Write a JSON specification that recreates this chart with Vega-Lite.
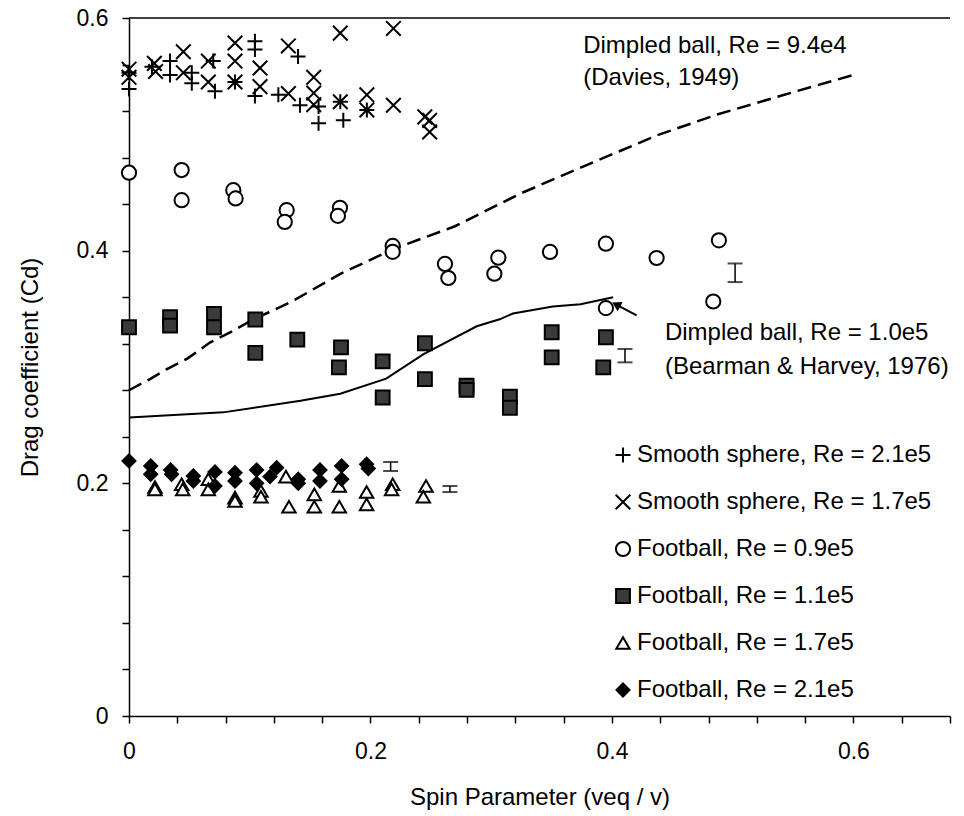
{
  "$schema": "https://vega.github.io/schema/vega-lite/v6.json",
  "width": 821,
  "height": 698,
  "autosize": {"type": "none"},
  "padding": {"left": 129, "top": 18, "right": 14, "bottom": 100},
  "background": "white",
  "config": {
    "view": {"stroke": null},
    "font": "Liberation Sans",
    "axis": {
      "grid": false,
      "domainColor": "black",
      "domainWidth": 1.5,
      "tickColor": "black",
      "tickWidth": 1.5,
      "tickSize": 7,
      "labelFont": "Liberation Sans",
      "labelFontSize": 23,
      "labelColor": "black",
      "labelOverlap": false,
      "labelFlush": false,
      "titleFont": "Liberation Sans",
      "titleFontSize": 24,
      "titleFontWeight": "normal",
      "titleColor": "black"
    },
    "legend": {
      "orient": "none",
      "legendX": 482,
      "legendY": 425,
      "padding": 0,
      "labelFont": "Liberation Sans",
      "labelFontSize": 24,
      "labelColor": "black",
      "labelLimit": 0,
      "labelOffset": 2,
      "rowPadding": 23,
      "symbolStrokeWidth": 2,
      "symbolOpacity": 1
    }
  },
  "datasets": {
    "points": [
      {"series": "Smooth sphere, Re = 2.1e5", "x": 0, "y": 0.553},
      {"series": "Smooth sphere, Re = 2.1e5", "x": 0, "y": 0.539},
      {"series": "Smooth sphere, Re = 2.1e5", "x": 0.019, "y": 0.558},
      {"series": "Smooth sphere, Re = 2.1e5", "x": 0.034, "y": 0.563},
      {"series": "Smooth sphere, Re = 2.1e5", "x": 0.034, "y": 0.551},
      {"series": "Smooth sphere, Re = 2.1e5", "x": 0.052, "y": 0.553},
      {"series": "Smooth sphere, Re = 2.1e5", "x": 0.052, "y": 0.544},
      {"series": "Smooth sphere, Re = 2.1e5", "x": 0.0698, "y": 0.563},
      {"series": "Smooth sphere, Re = 2.1e5", "x": 0.0712, "y": 0.537},
      {"series": "Smooth sphere, Re = 2.1e5", "x": 0.0878, "y": 0.545},
      {"series": "Smooth sphere, Re = 2.1e5", "x": 0.1043, "y": 0.58},
      {"series": "Smooth sphere, Re = 2.1e5", "x": 0.1043, "y": 0.573},
      {"series": "Smooth sphere, Re = 2.1e5", "x": 0.1043, "y": 0.533},
      {"series": "Smooth sphere, Re = 2.1e5", "x": 0.1237, "y": 0.534},
      {"series": "Smooth sphere, Re = 2.1e5", "x": 0.14, "y": 0.567},
      {"series": "Smooth sphere, Re = 2.1e5", "x": 0.1416, "y": 0.525},
      {"series": "Smooth sphere, Re = 2.1e5", "x": 0.157, "y": 0.524},
      {"series": "Smooth sphere, Re = 2.1e5", "x": 0.157, "y": 0.5095},
      {"series": "Smooth sphere, Re = 2.1e5", "x": 0.175, "y": 0.528},
      {"series": "Smooth sphere, Re = 2.1e5", "x": 0.1775, "y": 0.512},
      {"series": "Smooth sphere, Re = 2.1e5", "x": 0.197, "y": 0.521},
      {"series": "Smooth sphere, Re = 1.7e5", "x": 0, "y": 0.556},
      {"series": "Smooth sphere, Re = 1.7e5", "x": 0, "y": 0.549},
      {"series": "Smooth sphere, Re = 1.7e5", "x": 0.021, "y": 0.561},
      {"series": "Smooth sphere, Re = 1.7e5", "x": 0.022, "y": 0.554},
      {"series": "Smooth sphere, Re = 1.7e5", "x": 0.045, "y": 0.571},
      {"series": "Smooth sphere, Re = 1.7e5", "x": 0.045, "y": 0.553},
      {"series": "Smooth sphere, Re = 1.7e5", "x": 0.0657, "y": 0.563},
      {"series": "Smooth sphere, Re = 1.7e5", "x": 0.0657, "y": 0.545},
      {"series": "Smooth sphere, Re = 1.7e5", "x": 0.0878, "y": 0.5785},
      {"series": "Smooth sphere, Re = 1.7e5", "x": 0.0878, "y": 0.563},
      {"series": "Smooth sphere, Re = 1.7e5", "x": 0.0878, "y": 0.545},
      {"series": "Smooth sphere, Re = 1.7e5", "x": 0.1085, "y": 0.557},
      {"series": "Smooth sphere, Re = 1.7e5", "x": 0.1085, "y": 0.541},
      {"series": "Smooth sphere, Re = 1.7e5", "x": 0.132, "y": 0.576},
      {"series": "Smooth sphere, Re = 1.7e5", "x": 0.132, "y": 0.535},
      {"series": "Smooth sphere, Re = 1.7e5", "x": 0.153, "y": 0.549},
      {"series": "Smooth sphere, Re = 1.7e5", "x": 0.153, "y": 0.5355},
      {"series": "Smooth sphere, Re = 1.7e5", "x": 0.153, "y": 0.5255},
      {"series": "Smooth sphere, Re = 1.7e5", "x": 0.175, "y": 0.587},
      {"series": "Smooth sphere, Re = 1.7e5", "x": 0.175, "y": 0.528},
      {"series": "Smooth sphere, Re = 1.7e5", "x": 0.197, "y": 0.534},
      {"series": "Smooth sphere, Re = 1.7e5", "x": 0.197, "y": 0.521},
      {"series": "Smooth sphere, Re = 1.7e5", "x": 0.219, "y": 0.591},
      {"series": "Smooth sphere, Re = 1.7e5", "x": 0.219, "y": 0.525},
      {"series": "Smooth sphere, Re = 1.7e5", "x": 0.245, "y": 0.515},
      {"series": "Smooth sphere, Re = 1.7e5", "x": 0.249, "y": 0.512},
      {"series": "Smooth sphere, Re = 1.7e5", "x": 0.249, "y": 0.502},
      {"series": "Football, Re = 0.9e5", "x": 0, "y": 0.467},
      {"series": "Football, Re = 0.9e5", "x": 0.0436, "y": 0.4693},
      {"series": "Football, Re = 0.9e5", "x": 0.0436, "y": 0.4434},
      {"series": "Football, Re = 0.9e5", "x": 0.0864, "y": 0.452},
      {"series": "Football, Re = 0.9e5", "x": 0.0883, "y": 0.4449},
      {"series": "Football, Re = 0.9e5", "x": 0.1306, "y": 0.4348},
      {"series": "Football, Re = 0.9e5", "x": 0.129, "y": 0.4247},
      {"series": "Football, Re = 0.9e5", "x": 0.1747, "y": 0.4368},
      {"series": "Football, Re = 0.9e5", "x": 0.173, "y": 0.4299},
      {"series": "Football, Re = 0.9e5", "x": 0.2184, "y": 0.4041},
      {"series": "Football, Re = 0.9e5", "x": 0.2184, "y": 0.399},
      {"series": "Football, Re = 0.9e5", "x": 0.2617, "y": 0.3886},
      {"series": "Football, Re = 0.9e5", "x": 0.2645, "y": 0.3765},
      {"series": "Football, Re = 0.9e5", "x": 0.3026, "y": 0.3802},
      {"series": "Football, Re = 0.9e5", "x": 0.3059, "y": 0.394},
      {"series": "Football, Re = 0.9e5", "x": 0.3487, "y": 0.3989},
      {"series": "Football, Re = 0.9e5", "x": 0.395, "y": 0.406},
      {"series": "Football, Re = 0.9e5", "x": 0.437, "y": 0.3937},
      {"series": "Football, Re = 0.9e5", "x": 0.4886, "y": 0.4089},
      {"series": "Football, Re = 0.9e5", "x": 0.4839, "y": 0.3563},
      {"series": "Football, Re = 0.9e5", "x": 0.395, "y": 0.3506},
      {"series": "Football, Re = 1.1e5", "x": 0, "y": 0.3342},
      {"series": "Football, Re = 1.1e5", "x": 0.034, "y": 0.3428},
      {"series": "Football, Re = 1.1e5", "x": 0.034, "y": 0.3356},
      {"series": "Football, Re = 1.1e5", "x": 0.0704, "y": 0.3457},
      {"series": "Football, Re = 1.1e5", "x": 0.0704, "y": 0.3342},
      {"series": "Football, Re = 1.1e5", "x": 0.1046, "y": 0.3408},
      {"series": "Football, Re = 1.1e5", "x": 0.1046, "y": 0.3121},
      {"series": "Football, Re = 1.1e5", "x": 0.1394, "y": 0.3235},
      {"series": "Football, Re = 1.1e5", "x": 0.1756, "y": 0.3169},
      {"series": "Football, Re = 1.1e5", "x": 0.1739, "y": 0.2997},
      {"series": "Football, Re = 1.1e5", "x": 0.2101, "y": 0.3049},
      {"series": "Football, Re = 1.1e5", "x": 0.2101, "y": 0.2738},
      {"series": "Football, Re = 1.1e5", "x": 0.2451, "y": 0.3204},
      {"series": "Football, Re = 1.1e5", "x": 0.2451, "y": 0.2896},
      {"series": "Football, Re = 1.1e5", "x": 0.2796, "y": 0.2839},
      {"series": "Football, Re = 1.1e5", "x": 0.2796, "y": 0.2804},
      {"series": "Football, Re = 1.1e5", "x": 0.3155, "y": 0.2745},
      {"series": "Football, Re = 1.1e5", "x": 0.3155, "y": 0.265},
      {"series": "Football, Re = 1.1e5", "x": 0.3501, "y": 0.3299},
      {"series": "Football, Re = 1.1e5", "x": 0.3501, "y": 0.3083},
      {"series": "Football, Re = 1.1e5", "x": 0.395, "y": 0.3256},
      {"series": "Football, Re = 1.1e5", "x": 0.3928, "y": 0.2997},
      {"series": "Football, Re = 1.7e5", "x": 0.0215, "y": 0.1969},
      {"series": "Football, Re = 1.7e5", "x": 0.0215, "y": 0.1948},
      {"series": "Football, Re = 1.7e5", "x": 0.0436, "y": 0.1992},
      {"series": "Football, Re = 1.7e5", "x": 0.0445, "y": 0.1948},
      {"series": "Football, Re = 1.7e5", "x": 0.0657, "y": 0.2035},
      {"series": "Football, Re = 1.7e5", "x": 0.0657, "y": 0.1948},
      {"series": "Football, Re = 1.7e5", "x": 0.0878, "y": 0.1877},
      {"series": "Football, Re = 1.7e5", "x": 0.0878, "y": 0.1848},
      {"series": "Football, Re = 1.7e5", "x": 0.1093, "y": 0.1934},
      {"series": "Football, Re = 1.7e5", "x": 0.1093, "y": 0.1885},
      {"series": "Football, Re = 1.7e5", "x": 0.13, "y": 0.2058},
      {"series": "Football, Re = 1.7e5", "x": 0.1325, "y": 0.1799},
      {"series": "Football, Re = 1.7e5", "x": 0.1535, "y": 0.1905},
      {"series": "Football, Re = 1.7e5", "x": 0.1535, "y": 0.1799},
      {"series": "Football, Re = 1.7e5", "x": 0.1742, "y": 0.1977},
      {"series": "Football, Re = 1.7e5", "x": 0.1742, "y": 0.1799},
      {"series": "Football, Re = 1.7e5", "x": 0.1968, "y": 0.1925},
      {"series": "Football, Re = 1.7e5", "x": 0.1968, "y": 0.1819},
      {"series": "Football, Re = 1.7e5", "x": 0.2184, "y": 0.1992},
      {"series": "Football, Re = 1.7e5", "x": 0.2175, "y": 0.1948},
      {"series": "Football, Re = 1.7e5", "x": 0.246, "y": 0.1977},
      {"series": "Football, Re = 1.7e5", "x": 0.2438, "y": 0.1885},
      {"series": "Football, Re = 2.1e5", "x": 0, "y": 0.2193},
      {"series": "Football, Re = 2.1e5", "x": 0.018, "y": 0.215},
      {"series": "Football, Re = 2.1e5", "x": 0.018, "y": 0.2078},
      {"series": "Football, Re = 2.1e5", "x": 0.0345, "y": 0.2115},
      {"series": "Football, Re = 2.1e5", "x": 0.0353, "y": 0.2078},
      {"series": "Football, Re = 2.1e5", "x": 0.0533, "y": 0.2063},
      {"series": "Football, Re = 2.1e5", "x": 0.0533, "y": 0.202},
      {"series": "Football, Re = 2.1e5", "x": 0.0712, "y": 0.2098},
      {"series": "Football, Re = 2.1e5", "x": 0.0712, "y": 0.1977},
      {"series": "Football, Re = 2.1e5", "x": 0.0878, "y": 0.2092},
      {"series": "Football, Re = 2.1e5", "x": 0.0878, "y": 0.202},
      {"series": "Football, Re = 2.1e5", "x": 0.1057, "y": 0.2115},
      {"series": "Football, Re = 2.1e5", "x": 0.1057, "y": 0.2},
      {"series": "Football, Re = 2.1e5", "x": 0.1223, "y": 0.2135},
      {"series": "Football, Re = 2.1e5", "x": 0.1168, "y": 0.2058},
      {"series": "Football, Re = 2.1e5", "x": 0.1402, "y": 0.2035},
      {"series": "Football, Re = 2.1e5", "x": 0.1402, "y": 0.2},
      {"series": "Football, Re = 2.1e5", "x": 0.1582, "y": 0.2115},
      {"series": "Football, Re = 2.1e5", "x": 0.1582, "y": 0.202},
      {"series": "Football, Re = 2.1e5", "x": 0.1761, "y": 0.215},
      {"series": "Football, Re = 2.1e5", "x": 0.1761, "y": 0.2035},
      {"series": "Football, Re = 2.1e5", "x": 0.1968, "y": 0.2164},
      {"series": "Football, Re = 2.1e5", "x": 0.1982, "y": 0.2127}
    ],
    "curves": [
      {"curve": "Davies", "x": 0, "y": 0.28},
      {"curve": "Davies", "x": 0.0174, "y": 0.2896},
      {"curve": "Davies", "x": 0.031, "y": 0.298},
      {"curve": "Davies", "x": 0.048, "y": 0.307},
      {"curve": "Davies", "x": 0.067, "y": 0.321},
      {"curve": "Davies", "x": 0.086, "y": 0.331},
      {"curve": "Davies", "x": 0.103, "y": 0.341},
      {"curve": "Davies", "x": 0.122, "y": 0.35},
      {"curve": "Davies", "x": 0.136, "y": 0.357},
      {"curve": "Davies", "x": 0.175, "y": 0.38},
      {"curve": "Davies", "x": 0.218, "y": 0.401},
      {"curve": "Davies", "x": 0.27, "y": 0.421},
      {"curve": "Davies", "x": 0.324, "y": 0.449},
      {"curve": "Davies", "x": 0.38, "y": 0.474},
      {"curve": "Davies", "x": 0.437, "y": 0.499},
      {"curve": "Davies", "x": 0.487, "y": 0.517},
      {"curve": "Davies", "x": 0.556, "y": 0.538},
      {"curve": "Davies", "x": 0.6, "y": 0.551},
      {"curve": "Bearman", "x": 0, "y": 0.2566},
      {"curve": "Bearman", "x": 0.078, "y": 0.261},
      {"curve": "Bearman", "x": 0.142, "y": 0.271},
      {"curve": "Bearman", "x": 0.175, "y": 0.277},
      {"curve": "Bearman", "x": 0.213, "y": 0.29},
      {"curve": "Bearman", "x": 0.244, "y": 0.311},
      {"curve": "Bearman", "x": 0.288, "y": 0.335},
      {"curve": "Bearman", "x": 0.307, "y": 0.341},
      {"curve": "Bearman", "x": 0.318, "y": 0.346},
      {"curve": "Bearman", "x": 0.351, "y": 0.352},
      {"curve": "Bearman", "x": 0.374, "y": 0.354},
      {"curve": "Bearman", "x": 0.401, "y": 0.36}
    ],
    "errs": [
      {"x": 0.502, "lo": 0.373, "hi": 0.389},
      {"x": 0.4108, "lo": 0.304, "hi": 0.3155},
      {"x": 0.2167, "lo": 0.2106, "hi": 0.2184},
      {"x": 0.2658, "lo": 0.1925, "hi": 0.1977}
    ],
    "arrow": [
      {"x": 0.4205, "y": 0.3443, "x2": 0.4035, "y2": 0.3537}
    ],
    "notes": [
      {"x": 0.3762, "y": 0.5759, "label": "Dimpled ball, Re = 9.4e4"},
      {"x": 0.3762, "y": 0.5483, "label": "(Davies, 1949)"},
      {"x": 0.4439, "y": 0.329, "label": "Dimpled ball, Re = 1.0e5"},
      {"x": 0.4439, "y": 0.2997, "label": "(Bearman & Harvey, 1976)"}
    ]
  },
  "layer": [
    {
      "data": {"values": [{}]},
      "mark": {"type": "rule", "color": "black", "strokeWidth": 1.5},
      "encoding": {"y": {"datum": 0.6, "type": "quantitative"}}
    },
    {
      "data": {"name": "curves"},
      "transform": [{"filter": "datum.curve == 'Davies'"}],
      "mark": {"type": "line", "color": "black", "strokeWidth": 2.5, "strokeDash": [14, 7]},
      "encoding": {
        "x": {"field": "x", "type": "quantitative"},
        "y": {"field": "y", "type": "quantitative"},
        "order": {"field": "x", "type": "quantitative"}
      }
    },
    {
      "data": {"name": "curves"},
      "transform": [{"filter": "datum.curve == 'Bearman'"}],
      "mark": {"type": "line", "color": "black", "strokeWidth": 2},
      "encoding": {
        "x": {"field": "x", "type": "quantitative"},
        "y": {"field": "y", "type": "quantitative"},
        "order": {"field": "x", "type": "quantitative"}
      }
    },
    {
      "data": {"name": "errs"},
      "mark": {"type": "rule", "color": "black", "strokeWidth": 1.5},
      "encoding": {
        "x": {"field": "x", "type": "quantitative"},
        "y": {"field": "lo", "type": "quantitative"},
        "y2": {"field": "hi"}
      }
    },
    {
      "data": {"name": "errs"},
      "mark": {"type": "tick", "orient": "horizontal", "color": "black", "size": 15, "thickness": 2},
      "encoding": {
        "x": {"field": "x", "type": "quantitative"},
        "y": {"field": "lo", "type": "quantitative"}
      }
    },
    {
      "data": {"name": "errs"},
      "mark": {"type": "tick", "orient": "horizontal", "color": "black", "size": 15, "thickness": 2},
      "encoding": {
        "x": {"field": "x", "type": "quantitative"},
        "y": {"field": "hi", "type": "quantitative"}
      }
    },
    {
      "data": {"name": "arrow"},
      "mark": {"type": "rule", "color": "black", "strokeWidth": 2},
      "encoding": {
        "x": {"field": "x", "type": "quantitative"},
        "y": {"field": "y", "type": "quantitative"},
        "x2": {"field": "x2"},
        "y2": {"field": "y2"}
      }
    },
    {
      "data": {"name": "arrow"},
      "mark": {"type": "point", "shape": "triangle-up", "angle": 298, "size": 110, "filled": true, "color": "black", "opacity": 1},
      "encoding": {
        "x": {"field": "x2", "type": "quantitative"},
        "y": {"field": "y2", "type": "quantitative"}
      }
    },
    {
      "data": {"name": "points"},
      "mark": {"type": "point", "strokeWidth": 2, "opacity": 1},
      "encoding": {
        "x": {
          "field": "x",
          "type": "quantitative",
          "scale": {"domain": [0, 0.68], "nice": false, "zero": false},
          "axis": {
            "title": "Spin Parameter (veq / v)",
            "values": [0, 0.04, 0.08, 0.12, 0.16, 0.2, 0.24, 0.28, 0.32, 0.36, 0.4, 0.44, 0.48, 0.52, 0.56, 0.6, 0.64, 0.68],
            "labelExpr": "abs(datum.value * 5 - round(datum.value * 5)) < 0.001 ? format(datum.value, '.1~f') : ''",
            "labelPadding": 17,
            "titlePadding": 22
          }
        },
        "y": {
          "field": "y",
          "type": "quantitative",
          "scale": {"domain": [0, 0.6], "nice": false},
          "axis": {
            "title": "Drag coefficient (Cd)",
            "values": [0, 0.04, 0.08, 0.12, 0.16, 0.2, 0.24, 0.28, 0.32, 0.36, 0.4, 0.44, 0.48, 0.52, 0.56, 0.6],
            "labelExpr": "abs(datum.value * 5 - round(datum.value * 5)) < 0.001 ? format(datum.value, '.1~f') : ''",
            "labelPadding": 14,
            "titlePadding": 34
          }
        },
        "shape": {
          "field": "series",
          "type": "nominal",
          "scale": {
            "domain": ["Smooth sphere, Re = 2.1e5", "Smooth sphere, Re = 1.7e5", "Football, Re = 0.9e5", "Football, Re = 1.1e5", "Football, Re = 1.7e5", "Football, Re = 2.1e5"],
            "range": ["M-1,0L1,0M0,-1L0,1", "M-1,-1L1,1M-1,1L1,-1", "circle", "square", "triangle-up", "diamond"]
          },
          "legend": {"title": null}
        },
        "fill": {
          "field": "series",
          "type": "nominal",
          "scale": {
            "domain": ["Smooth sphere, Re = 2.1e5", "Smooth sphere, Re = 1.7e5", "Football, Re = 0.9e5", "Football, Re = 1.1e5", "Football, Re = 1.7e5", "Football, Re = 2.1e5"],
            "range": ["white", "white", "white", "#3a3a3a", "white", "black"]
          },
          "legend": {"title": null}
        },
        "stroke": {
          "field": "series",
          "type": "nominal",
          "scale": {
            "domain": ["Smooth sphere, Re = 2.1e5", "Smooth sphere, Re = 1.7e5", "Football, Re = 0.9e5", "Football, Re = 1.1e5", "Football, Re = 1.7e5", "Football, Re = 2.1e5"],
            "range": ["black", "black", "black", "black", "black", "black"]
          },
          "legend": {"title": null}
        },
        "size": {
          "field": "series",
          "type": "nominal",
          "scale": {
            "domain": ["Smooth sphere, Re = 2.1e5", "Smooth sphere, Re = 1.7e5", "Football, Re = 0.9e5", "Football, Re = 1.1e5", "Football, Re = 1.7e5", "Football, Re = 2.1e5"],
            "range": [225, 169, 115, 110, 170, 170]
          },
          "legend": {"title": null}
        }
      }
    },
    {
      "data": {"name": "notes"},
      "mark": {"type": "text", "align": "left", "baseline": "middle", "font": "Liberation Sans", "fontSize": 24, "color": "black"},
      "encoding": {
        "x": {"field": "x", "type": "quantitative"},
        "y": {"field": "y", "type": "quantitative"},
        "text": {"field": "label", "type": "nominal"}
      }
    }
  ]
}
